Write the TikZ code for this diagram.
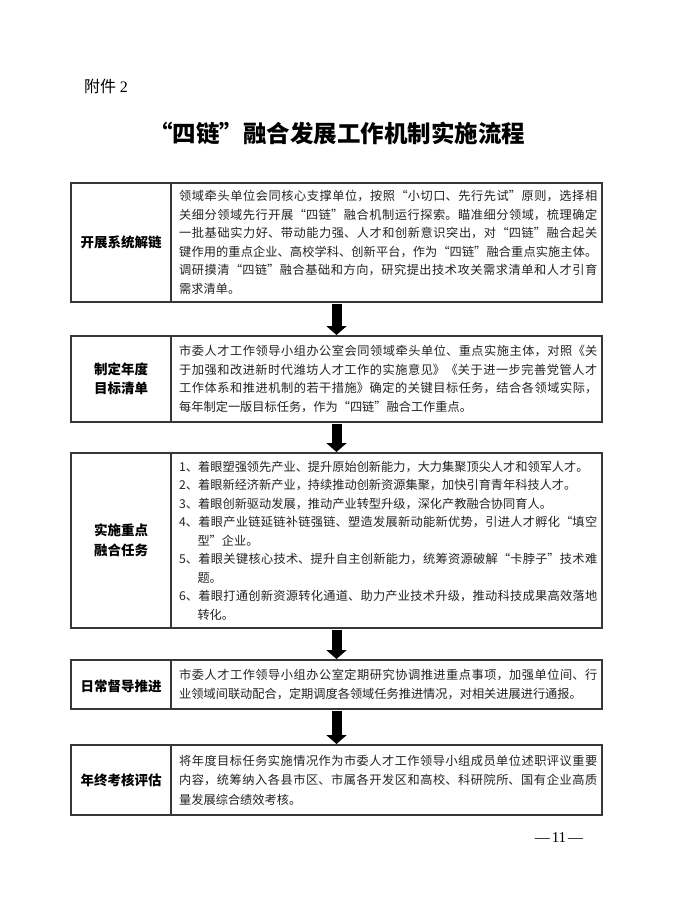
\documentclass[tikz,border=0pt]{standalone}
\usepackage{fontspec}
\setmainfont{Noto Sans CJK SC}
\newfontfamily\lat{Liberation Serif}
\usetikzlibrary{arrows.meta,calc}
\XeTeXlinebreaklocale "zh"
\XeTeXlinebreakskip=0pt plus 2pt
\definecolor{boxgray}{RGB}{55,55,55}
\definecolor{textgray}{RGB}{35,35,35}
\tikzset{
  box/.style={draw=boxgray, line width=1.1pt, minimum width=531pt, inner sep=0pt, outer sep=0pt},
  divider/.style={draw=boxgray, line width=1.1pt},
  lbl/.style={font=\fontsize{13.5}{19.5}\selectfont\bfseries, align=center, inner sep=0pt, text=black},
  body/.style={anchor=west, inner sep=0pt, font=\fontsize{12.2}{18.5}\selectfont, text=textgray},
  flow/.style={line width=10pt, black, -{Triangle[width=20pt,length=9pt]}}
}
\newcommand{\bodytext}[1]{\parbox{418pt}{\hbadness=10000\tolerance=10000 #1}}
\newcommand{\itm}{\hangindent=18.3pt\hangafter=1 }
\begin{document}
\begin{tikzpicture}[x=1pt,y=-1pt]
\useasboundingbox[fill=white] (0,0) rectangle (673,917);

\node[anchor=west, font=\fontsize{16}{16}\selectfont, inner sep=0pt] (att) at (84,86) {附件 {\lat 2}};
\node[font=\fontsize{23.5}{23.5}\selectfont\bfseries, inner sep=0pt] (title) at (337,133) {“四链”融合发展工作机制实施流程};

% boxes
\node[box, minimum height=119pt] (b1) at (336.5,242.5) {};
\node[box, minimum height=86pt] (b2) at (336.5,379) {};
\node[box, minimum height=175pt] (b3) at (336.5,540.5) {};
\node[box, minimum height=49pt] (b4) at (336.5,684.5) {};
\node[box, minimum height=70pt] (b5) at (336.5,780) {};

\foreach \b in {b1,b2,b3,b4,b5}{
  \draw[divider] ($(\b.north west)+(100,0)$) -- ($(\b.south west)+(100,0)$);
}

% labels
\node[lbl] (l1) at ($(b1.west)+(50,0)$) {开展系统解链};
\node[lbl] (l2) at ($(b2.west)+(50,0)$) {制定年度\\目标清单};
\node[lbl] (l3) at ($(b3.west)+(50,0)$) {实施重点\\融合任务};
\node[lbl] (l4) at ($(b4.west)+(50,2)$) {日常督导推进};
\node[lbl] (l5) at ($(b5.west)+(50,0)$) {年终考核评估};

% bodies
\node[body] (t1) at ($(b1.west)+(108,0)$) {\bodytext{%
领域牵头单位会同核心支撑单位，按照“小切口、先行先试”原则，选择相\linebreak
关细分领域先行开展“四链”融合机制运行探索。瞄准细分领域，梳理确定\linebreak
一批基础实力好、带动能力强、人才和创新意识突出，对“四链”融合起关\linebreak
键作用的重点企业、高校学科、创新平台，作为“四链”融合重点实施主体。\linebreak
调研摸清“四链”融合基础和方向，研究提出技术攻关需求清单和人才引育\linebreak
需求清单。}};

\node[body] (t2) at ($(b2.west)+(108,0)$) {\bodytext{%
市委人才工作领导小组办公室会同领域牵头单位、重点实施主体，对照《关\linebreak
于加强和改进新时代潍坊人才工作的实施意见》《关于进一步完善党管人才\linebreak
工作体系和推进机制的若干措施》确定的关键目标任务，结合各领域实际，\linebreak
每年制定一版目标任务，作为“四链”融合工作重点。}};

\node[body] (t3) at ($(b3.west)+(108,0)$) {\bodytext{%
\itm 1、着眼塑强领先产业、提升原始创新能力，大力集聚顶尖人才和领军人才。\par
\itm 2、着眼新经济新产业，持续推动创新资源集聚，加快引育青年科技人才。\par
\itm 3、着眼创新驱动发展，推动产业转型升级，深化产教融合协同育人。\par
\itm 4、着眼产业链延链补链强链、塑造发展新动能新优势，引进人才孵化“填空\linebreak
型”企业。\par
\itm 5、着眼关键核心技术、提升自主创新能力，统筹资源破解“卡脖子”技术难\linebreak
题。\par
\itm 6、着眼打通创新资源转化通道、助力产业技术升级，推动科技成果高效落地\linebreak
转化。}};

\node[body] (t4) at ($(b4.west)+(108,0)$) {\bodytext{%
市委人才工作领导小组办公室定期研究协调推进重点事项，加强单位间、行\linebreak
业领域间联动配合，定期调度各领域任务推进情况，对相关进展进行通报。}};

\node[body, font=\fontsize{12.2}{19.5}\selectfont] (t5) at ($(b5.west)+(108,0)$) {\bodytext{%
将年度目标任务实施情况作为市委人才工作领导小组成员单位述职评议重要\linebreak
内容，统筹纳入各县市区、市属各开发区和高校、科研院所、国有企业高质\linebreak
量发展综合绩效考核。}};

% arrows
\draw[flow] ($(b1.south)+(0,2)$) -- ($(b2.north)+(0,-1)$);
\draw[flow] ($(b2.south)+(0,2)$) -- ($(b3.north)+(0,-1)$);
\draw[flow] ($(b3.south)+(0,2)$) -- ($(b4.north)+(0,-1)$);
\draw[flow] ($(b4.south)+(0,2)$) -- ($(b5.north)+(0,-1)$);

\node[font=\lat\fontsize{15}{15}\selectfont, inner sep=0pt] (pg) at (559,838) {—\kern2pt 11\kern2pt —};
\end{tikzpicture}
\end{document}
